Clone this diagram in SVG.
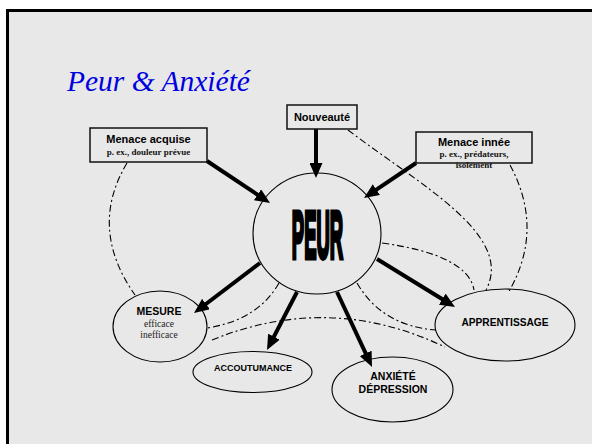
<svg xmlns="http://www.w3.org/2000/svg" width="592" height="444" viewBox="0 0 592 444">
<defs>
<style>
.box{fill:#e8e8e8;stroke:#111;stroke-width:1.5}
.ell{fill:none;stroke:#000;stroke-width:1.1}
.arr{stroke:#000;stroke-width:4;fill:none;marker-end:url(#ah)}
.dd{fill:none;stroke:#000;stroke-width:1.1;stroke-dasharray:7 3 2 3}
.lab{font-family:"Liberation Sans",Arial,sans-serif;font-weight:bold;fill:#000;text-anchor:middle}
.sub{font-family:"Liberation Serif","Times New Roman",serif;font-weight:bold;fill:#111;text-anchor:middle}
.subn{font-family:"Liberation Serif","Times New Roman",serif;fill:#222;text-anchor:middle}
</style>
<marker id="ah" markerUnits="userSpaceOnUse" markerWidth="15" markerHeight="13" refX="5" refY="6.5" orient="auto">
<path d="M0,0 L15,6.5 L0,13 Z" fill="#000"/>
</marker>
</defs>
<rect x="0" y="0" width="592" height="444" fill="#fff"/>
<rect x="7.5" y="10.5" width="600" height="450" fill="#e8e8e8" stroke="#000" stroke-width="3"/>
<text x="67" y="91" font-family="Liberation Serif,'Times New Roman',serif" font-style="italic" font-size="29.5" fill="#0000e0">Peur &amp; Anxiété</text>

<g id="connectors">
<path class="dd" d="M127,163 Q88,228 135,295"/>
<path class="dd" d="M348,130 C420,185 515,235 486,290"/>
<path class="dd" d="M510,165 Q545,230 508,293"/>
<path class="dd" d="M382,243 Q468,255 474,290"/>
<path class="dd" d="M357,283 Q382,326 436,330"/>
<path class="dd" d="M212,340 Q330,292 445,347"/>
<path class="dd" d="M279,283 Q258,320 207,328"/>
<line class="arr" x1="207" y1="161" x2="261.7" y2="197.5"/>
<line class="arr" x1="316" y1="129" x2="316" y2="168"/>
<line class="arr" x1="416" y1="163" x2="372.3" y2="192.4"/>
<line class="arr" x1="260" y1="263" x2="202" y2="307"/>
<line class="arr" x1="297" y1="292" x2="271.6" y2="341.1"/>
<line class="arr" x1="337" y1="292" x2="367.8" y2="357.9"/>
<line class="arr" x1="377" y1="259" x2="446.5" y2="301.8"/>
</g>

<g id="nouveaute">
<rect class="box" x="287" y="105" width="70" height="24"/>
<text class="lab" x="322" y="121" font-size="11">Nouveauté</text>
</g>
<g id="menace-acquise">
<rect class="box" x="90" y="128" width="117" height="34"/>
<text class="lab" x="148.5" y="143" font-size="11">Menace acquise</text>
<text class="sub" x="148.5" y="155" font-size="9">p. ex., douleur prévue</text>
</g>
<g id="menace-innee">
<rect class="box" x="416" y="132" width="116" height="31"/>
<text class="lab" x="474" y="146" font-size="11">Menace innée</text>
<text class="sub" x="474" y="157" font-size="9">p. ex.,  prédateurs,</text>
<text class="sub" x="474" y="168" font-size="9">isolement</text>
</g>
<g id="peur">
<ellipse class="ell" cx="317" cy="233.5" rx="64" ry="60.5"/>
<text class="lab" x="0" y="0" font-size="66" stroke="#000" stroke-width="3.5" vector-effect="non-scaling-stroke" transform="translate(317.5,258) scale(0.28,1)">PEUR</text>
</g>
<g id="mesure">
<ellipse class="ell" cx="160" cy="326.5" rx="47" ry="35.5"/>
<text class="lab" x="159" y="315" font-size="10.5">MESURE</text>
<text class="subn" x="159" y="327" font-size="9.5">efficace</text>
<text class="subn" x="159" y="338" font-size="9.5">inefficace</text>
</g>
<g id="accoutumance">
<ellipse class="ell" cx="252.5" cy="372" rx="59.5" ry="20.5"/>
<text class="lab" x="253" y="371" font-size="9">ACCOUTUMANCE</text>
</g>
<g id="anxiete">
<ellipse class="ell" cx="392.5" cy="389.5" rx="60.5" ry="32.5"/>
<text class="lab" x="393" y="380" font-size="10.5">ANXIÉTÉ</text>
<text class="lab" x="393" y="393" font-size="10.5">DÉPRESSION</text>
</g>
<g id="apprentissage">
<ellipse class="ell" cx="505" cy="325" rx="70" ry="36"/>
<text class="lab" x="505" y="326" font-size="10.2">APPRENTISSAGE</text>
</g>
</svg>
